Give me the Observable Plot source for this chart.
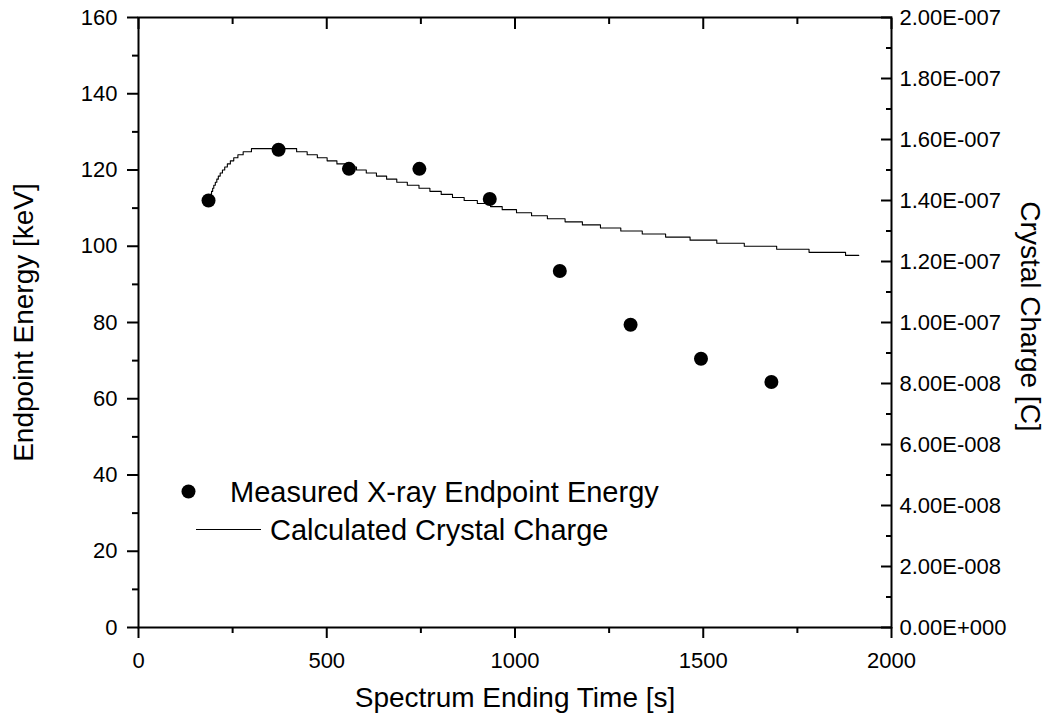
<!DOCTYPE html>
<html>
<head>
<meta charset="utf-8">
<script src="https://cdn.jsdelivr.net/npm/d3@7"></script>
<script src="https://cdn.jsdelivr.net/npm/@observablehq/plot@0.6"></script>
<style>
  body { margin: 0; background: #fff; }
  #wrap { position: relative; width: 1052px; height: 723px; font-family: "Liberation Sans", Arial, sans-serif; }
  #legend { position: absolute; left: 0; top: 0; pointer-events: none; }
</style>
</head>
<body>
<div id="wrap"></div>
<script>
// ---- Data ----
// Measured X-ray endpoint energy (keV) at spectrum ending time (s)
const measuredTime   = [186, 372, 559, 746, 933, 1119, 1307, 1494, 1681];
const measuredEnergy = [112, 125.3, 120.3, 120.3, 112.4, 93.5, 79.4, 70.5, 64.4];

// Calculated crystal charge: staircase levels (nC) starting at each time (s)
const chargeTime = [186, 188, 191, 194, 197, 200, 204, 208, 212, 217, 223, 229, 236, 244, 253, 264, 278, 300,
  420, 448, 475, 501, 527, 553, 579, 605, 632, 659, 686, 714, 745, 774, 804, 834, 865, 900, 935, 966,
  1004, 1044, 1086, 1133, 1179, 1227, 1281, 1338, 1400, 1465, 1536, 1609, 1695, 1781, 1878, 1913];
const chargeNanoC = [140, 141, 142, 143, 144, 145, 146, 147, 148, 149, 150, 151, 152, 153, 154, 155, 156, 157,
  156, 155, 154, 153, 152, 151, 150, 149, 148, 147, 146, 145, 144, 143, 142, 141, 140, 139, 138, 137,
  136, 135, 134, 133, 132, 131, 130, 129, 128, 127, 126, 125, 124, 123, 122, 122];

// Axes
const timeDomain = [0, 2000];
const energyDomain = [0, 160];
const chargeDomain = [0, 2e-7];
const xTicksMajor = [0, 500, 1000, 1500, 2000];
const xTicksMinor = [250, 750, 1250, 1750];
const yTicksMajor = [0, 20, 40, 60, 80, 100, 120, 140, 160];
const yTicksMinor = [10, 30, 50, 70, 90, 110, 130, 150];
const chargeTicksMajor = [0, 2e-8, 4e-8, 6e-8, 8e-8, 1e-7, 1.2e-7, 1.4e-7, 1.6e-7, 1.8e-7, 2e-7];
const chargeTickLabels = ["0.00E+000", "2.00E-008", "4.00E-008", "6.00E-008", "8.00E-008", "1.00E-007",
  "1.20E-007", "1.40E-007", "1.60E-007", "1.80E-007", "2.00E-007"];
const chargeTicksMinor = [1e-8, 3e-8, 5e-8, 7e-8, 9e-8, 1.1e-7, 1.3e-7, 1.5e-7, 1.7e-7, 1.9e-7];

const xLabel = "Spectrum Ending Time [s]";
const yLabel = "Endpoint Energy [keV]";
const y2Label = "Crystal Charge [C]";
const legendLabels = ["Measured X-ray Endpoint Energy", "Calculated Crystal Charge"];

// ---- Build ----
const chargeToEnergy = c => (c - chargeDomain[0]) / (chargeDomain[1] - chargeDomain[0]) * (energyDomain[1] - energyDomain[0]) + energyDomain[0];
const measured = measuredTime.map((t, i) => ({t, e: measuredEnergy[i]}));
const charge = chargeTime.map((t, i) => ({t, e: chargeToEnergy(chargeNanoC[i] * 1e-9)}));
const rightMajorPos = chargeTicksMajor.map(chargeToEnergy);
const rightMinorPos = chargeTicksMinor.map(chargeToEnergy);
const rightLabel = d => {
  const i = rightMajorPos.findIndex(v => Math.abs(v - d) < 1e-6);
  return i >= 0 ? chargeTickLabels[i] : "";
};
const blank = () => "";
const MAJ = 11, MIN = 6, SW = 2;

const chart = Plot.plot({
  width: 1052,
  height: 723,
  marginLeft: 138,
  marginRight: 161,
  marginTop: 17,
  marginBottom: 96,
  style: {fontFamily: "'Liberation Sans', Arial, sans-serif", fontSize: "22px", color: "#000", background: "#fff"},
  x: {domain: timeDomain},
  y: {domain: energyDomain},
  marks: [
    Plot.frame({stroke: "#000", strokeWidth: SW}),
    // bottom axis
    Plot.axisX({anchor: "bottom", ticks: xTicksMajor, tickSize: MAJ, tickPadding: 14, strokeWidth: SW, label: null, tickFormat: d => String(d)}),
    Plot.axisX({anchor: "bottom", ticks: xTicksMinor, tickSize: MIN, strokeWidth: SW, label: null, tickFormat: blank}),
    // top axis (inward ticks, no labels)
    Plot.axisX({anchor: "top", ticks: xTicksMajor, tickSize: MAJ, dy: MAJ, strokeWidth: SW, label: null, tickFormat: blank}),
    Plot.axisX({anchor: "top", ticks: xTicksMinor, tickSize: MIN, dy: MIN, strokeWidth: SW, label: null, tickFormat: blank}),
    // left axis
    Plot.axisY({anchor: "left", ticks: yTicksMajor, tickSize: MAJ, tickPadding: 10, strokeWidth: SW, label: null, tickFormat: d => String(d)}),
    Plot.axisY({anchor: "left", ticks: yTicksMinor, tickSize: MIN, strokeWidth: SW, label: null, tickFormat: blank}),
    // right axis (charge), inward ticks
    Plot.axisY({anchor: "right", ticks: rightMajorPos, tickSize: MAJ, dx: -MAJ, strokeWidth: SW, label: null, tickFormat: blank}),
    Plot.axisY({anchor: "right", ticks: rightMinorPos, tickSize: MIN, dx: -MIN, strokeWidth: SW, label: null, tickFormat: blank}),
    Plot.axisY({anchor: "right", ticks: rightMajorPos, tickSize: 0, tickPadding: 8, label: null, tickFormat: rightLabel}),
    // axis titles
    Plot.text([xLabel], {frameAnchor: "bottom", dy: 71, fontSize: 28, lineAnchor: "middle", textAnchor: "middle", text: d => d}),
    Plot.text([yLabel], {frameAnchor: "left", dx: -114, rotate: -90, fontSize: 28, lineAnchor: "middle", textAnchor: "middle", text: d => d}),
    Plot.text([y2Label], {frameAnchor: "right", dx: 138, dy: -6, rotate: 90, fontSize: 28, lineAnchor: "middle", textAnchor: "middle", text: d => d}),
    // data
    Plot.line(charge, {x: "t", y: "e", curve: "step-after", stroke: "#000", strokeWidth: 1.1}),
    Plot.dot(measured, {x: "t", y: "e", r: 7, fill: "#000", stroke: "none"})
  ]
});

const wrap = document.getElementById("wrap");
wrap.appendChild(chart);

// Legend (inside plot area, as in the reference)
const ns = "http://www.w3.org/2000/svg";
const leg = document.createElementNS(ns, "svg");
leg.setAttribute("id", "legend");
leg.setAttribute("width", 1052);
leg.setAttribute("height", 723);
leg.innerHTML = `
  <circle cx="188.5" cy="491.5" r="7" fill="#000"></circle>
  <text x="230" y="502" font-size="29" font-family="'Liberation Sans', Arial, sans-serif" fill="#000">${legendLabels[0]}</text>
  <line x1="196" x2="261" y1="529.5" y2="529.5" stroke="#000" stroke-width="1.1"></line>
  <text x="270" y="540" font-size="29" font-family="'Liberation Sans', Arial, sans-serif" fill="#000">${legendLabels[1]}</text>
`;
wrap.appendChild(leg);
</script>
</body>
</html>
